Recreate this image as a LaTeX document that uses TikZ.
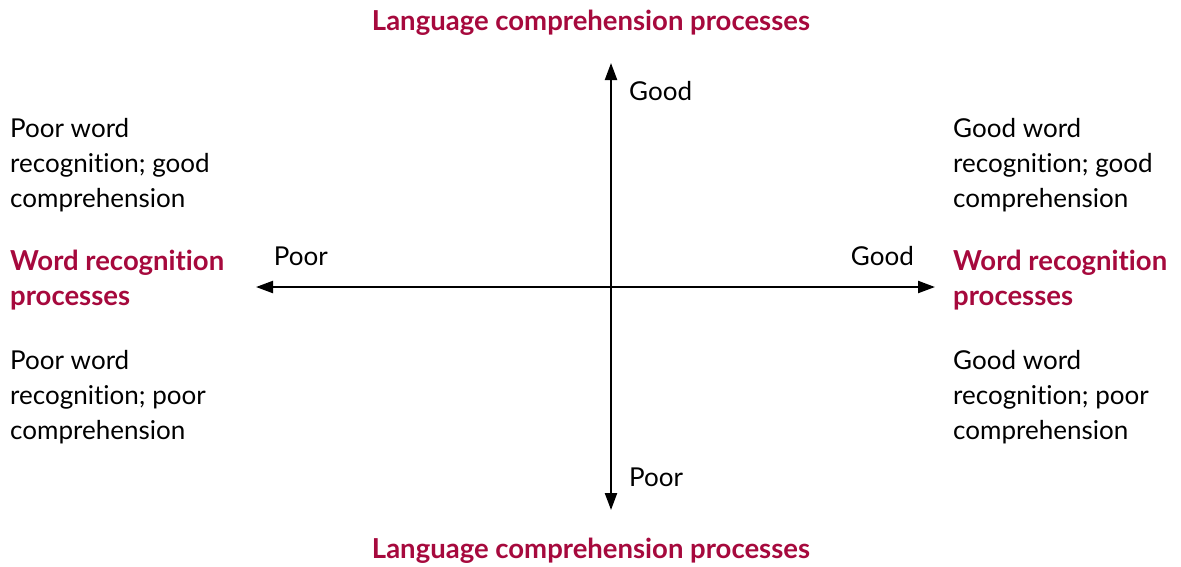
\documentclass[tikz,border=0pt]{standalone}
\usepackage{fontspec}
\setmainfont{Lato}[Ligatures={NoCommon,NoRare}]
\usetikzlibrary{arrows.meta}
\definecolor{crim}{HTML}{A6093D}
\begin{document}
\begin{tikzpicture}[x=1pt,y=-1pt,
  txt/.style={font=\fontsize{26}{35}\selectfont, align=left, inner sep=0pt},
  ttl/.style={font=\fontsize{27.5}{35}\selectfont\bfseries, text=crim, align=left, inner sep=0pt},
  axis/.style={line width=2.2pt, -{Triangle[length=17pt,width=12pt]}}]
\useasboundingbox (0,0) rectangle (1181,566);
\node[ttl] (top) at (591,23) {Language comprehension processes};
\node[ttl] (bot) at (591,551) {Language comprehension processes};
\coordinate (o) at (611,287);
\coordinate (n) at (611,63);
\coordinate (s) at (611,510);
\coordinate (w) at (256,287);
\coordinate (e) at (935,287);
\draw[axis] (o) -- (n);
\draw[axis] (o) -- (s);
\draw[axis] (o) -- (w);
\draw[axis] (o) -- (e);
\node[txt, anchor=west] (gn) at (629,91) {Good};
\node[txt, anchor=west] (ps) at (629,477) {Poor};
\node[txt, anchor=east] (pw) at (328,256) {Poor};
\node[txt, anchor=east] (ge) at (914,256) {Good};
\node[txt, anchor=west] (tl) at (10,165) {Poor word\\recognition; good\\comprehension};
\node[ttl, anchor=west] (ml) at (10,280) {Word recognition\\processes};
\node[txt, anchor=west] (bl) at (10,397) {Poor word\\recognition; poor\\comprehension};
\node[txt, anchor=west] (tr) at (953,165) {Good word\\recognition; good\\comprehension};
\node[ttl, anchor=west] (mr) at (953,280) {Word recognition\\processes};
\node[txt, anchor=west] (br) at (953,397) {Good word\\recognition; poor\\comprehension};
\end{tikzpicture}
\end{document}
